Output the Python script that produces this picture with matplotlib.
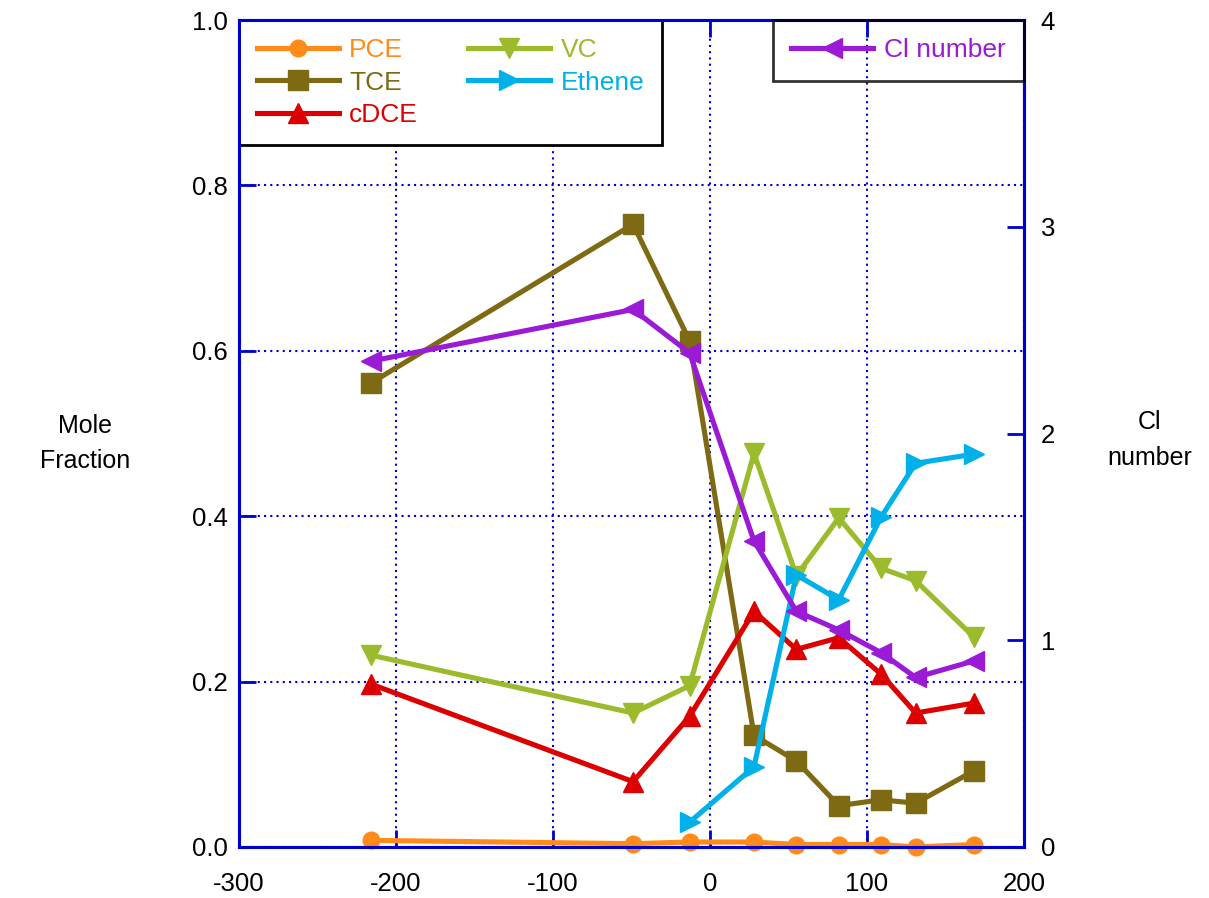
import matplotlib
matplotlib.use("Agg")
import matplotlib.pyplot as plt
import numpy as np

# distance along the transect
x_pos = [-216, -49, -13, 28, 55, 82, 109, 131, 168]

pce = [0.008, 0.004, 0.006, 0.006, 0.003, 0.003, 0.003, 0.0, 0.003]
tce = [0.561, 0.753, 0.612, 0.135, 0.104, 0.050, 0.057, 0.053, 0.092]
cdce = [0.197, 0.079, 0.158, 0.285, 0.239, 0.253, 0.209, 0.162, 0.174]
vc = [0.232, 0.162, 0.195, 0.476, 0.328, 0.398, 0.337, 0.322, 0.254]
ethene_x = [-13, 28, 55, 82, 109, 131, 168]
ethene = [0.030, 0.097, 0.329, 0.299, 0.399, 0.464, 0.475]
cl_number = [2.35, 2.60, 2.39, 1.48, 1.14, 1.05, 0.94, 0.82, 0.90]

x_ticks = [-300, -200, -100, 0, 100, 200]
y_ticks = [0.0, 0.2, 0.4, 0.6, 0.8, 1.0]
y2_ticks = [0, 1, 2, 3, 4]

c_pce = "#FF8C1A"
c_tce = "#7F6A14"
c_cdce = "#DD0000"
c_vc = "#9BBB2D"
c_eth = "#00B0E8"
c_cl = "#9A1AD6"
blue = "#0000CC"

plt.rcParams["font.family"] = ["Liberation Sans", "DejaVu Sans"]
plt.rcParams["axes.unicode_minus"] = False

fig = plt.figure(figsize=(12.09, 8.98), dpi=100)
ax = fig.add_axes([0.1977, 0.0568, 0.6493, 0.9209])
ax2 = ax.twinx()

lw = 3.7
ms = 14
ax.plot(x_pos, pce, color=c_pce, lw=lw, marker="o", ms=ms - 2, label="PCE", clip_on=False, zorder=3)
ax.plot(x_pos, tce, color=c_tce, lw=lw, marker="s", ms=ms, label="TCE", zorder=3)
ax.plot(x_pos, cdce, color=c_cdce, lw=lw, marker="^", ms=ms, label="cDCE", zorder=3)
ax.plot(x_pos, vc, color=c_vc, lw=lw, marker="v", ms=ms, label="VC", zorder=3)
ax.plot(ethene_x, ethene, color=c_eth, lw=lw, marker=">", ms=ms, label="Ethene", zorder=3)
ax2.plot(x_pos, cl_number, color=c_cl, lw=lw, marker="<", ms=ms, label="Cl number")

ax.set_xlim(-300, 200)
ax.set_ylim(0, 1.0)
ax2.set_ylim(0, 4)
ax.set_xticks(x_ticks)
ax.set_yticks(y_ticks)
ax.set_yticklabels([f"{v:.1f}" for v in y_ticks])
ax2.set_yticks(y2_ticks)

ax.grid(True, color=blue, linestyle=(0, (1, 2)), linewidth=1.5)
ax.set_axisbelow(True)

for a in (ax, ax2):
    for s in a.spines.values():
        s.set_color(blue)
        s.set_linewidth(2.2)
ax.tick_params(axis="both", direction="in", length=12, width=2, color=blue,
               labelsize=18.5, top=True)
ax.tick_params(axis="y", pad=8)
ax.tick_params(axis="x", pad=18)
ax2.tick_params(axis="y", direction="in", length=12, width=2, color=blue,
                labelsize=18.5, pad=12)

fig.text(0.07, 0.506, "Mole\nFraction", ha="center", va="center", fontsize=18,
         linespacing=1.6)
fig.text(0.951, 0.51, "Cl\nnumber", ha="center", va="center", fontsize=18,
         linespacing=1.6)

leg = ax.legend(loc="upper left", ncol=2, fontsize=19, frameon=True, fancybox=False,
                borderaxespad=0, handlelength=3.1, columnspacing=1.9,
                labelspacing=0.33, borderpad=0.68, handletextpad=0.4)
leg.get_frame().set_edgecolor("black")
leg.get_frame().set_linewidth(2)
leg.get_frame().set_alpha(1)
for t, c in zip(leg.get_texts(), [c_pce, c_tce, c_cdce, c_vc, c_eth]):
    t.set_color(c)

leg2 = ax2.legend(loc="upper right", fontsize=19, frameon=True, fancybox=False,
                  borderaxespad=0, handlelength=3.1, borderpad=0.7, handletextpad=0.4)
leg2.get_frame().set_edgecolor("black")
leg2.get_frame().set_linewidth(2)
leg2.get_frame().set_facecolor("none")
leg2.get_texts()[0].set_color(c_cl)

fig.savefig("out.png", dpi=100)
